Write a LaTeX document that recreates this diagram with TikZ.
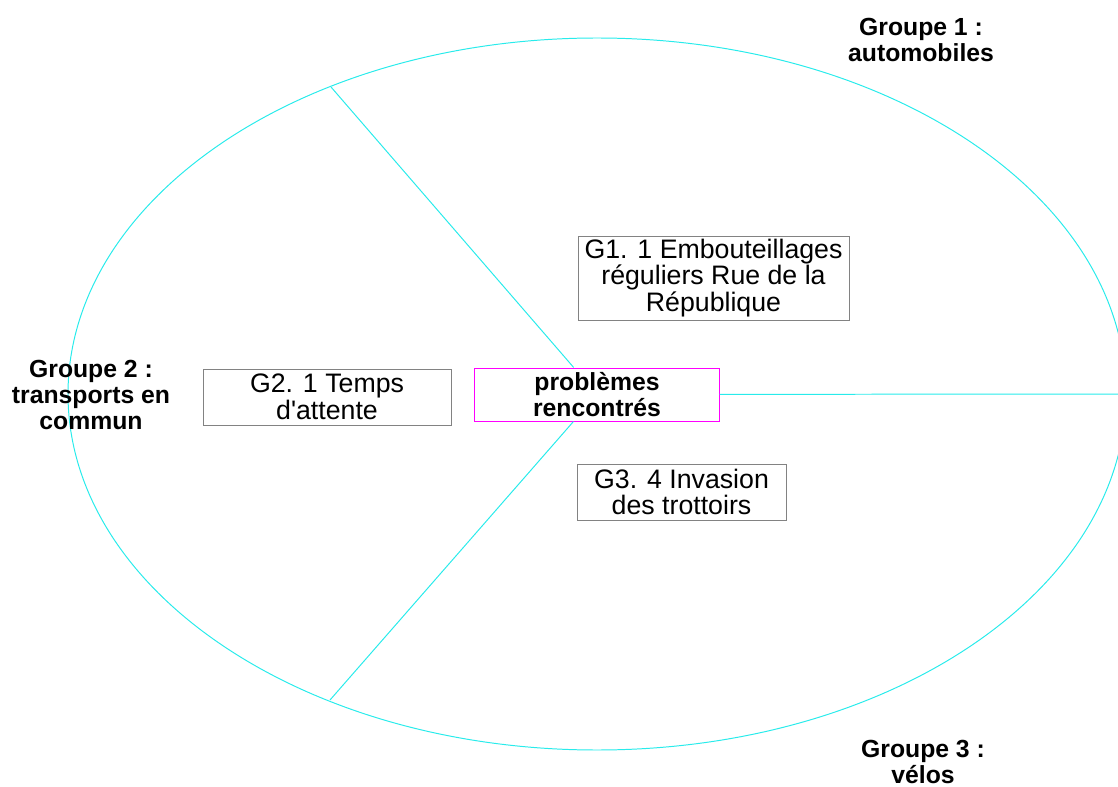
\documentclass[tikz,border=0pt]{standalone}
\usepackage{fontspec}
\setmainfont{Liberation Sans}[Ligatures=TeXOff]
\definecolor{lignecyan}{RGB}{40,235,235}
\definecolor{cadremagenta}{RGB}{255,0,255}
\definecolor{cadregris}{RGB}{130,130,130}
\tikzset{
  branche/.style={draw=lignecyan, line width=0.7pt},
  idee/.style={draw=cadregris, line width=0.5pt, align=center, inner sep=0pt,
    font=\fontsize{19}{19.1}\selectfont},
  titre/.style={draw=cadremagenta, line width=0.7pt, align=center, inner sep=0pt,
    font=\fontsize{17.6}{18.6}\selectfont\bfseries},
  groupe/.style={align=center, inner sep=0pt, font=\fontsize{17.6}{18.6}\selectfont\bfseries}
}
\begin{document}
\begin{tikzpicture}[x=0.025cm, y=-0.025cm]
  \useasboundingbox (0,0) rectangle (1118,787);
  \clip (0,0) rectangle (1118,787);

  % Drawing the ellipse
  \draw [branche] (597,394) ellipse [x radius=529, y radius=356];

  % Points on the ellipse
  \coordinate (haut) at (331,87);
  \coordinate (bas) at (330,700);
  \coordinate (droite) at (1126,394);

  % Central node
  \node [titre, minimum width=6.1cm, minimum height=1.325cm] (centre) at (597,394.5)
    {probl\`emes\\rencontr\'es};

  % Drawing the branches
  \draw [branche] (centre) -- (haut);
  \draw [branche] (centre) -- (bas);
  \draw [branche] (centre) -- (droite);

  % Ideas of each group
  \node [idee, minimum width=6.775cm, minimum height=2.1cm] (g1) at (713.5,278)
    {G1. 1 Embouteillages\\r\'eguliers Rue de la\\R\'epublique};
  \node [idee, minimum width=6.2cm, minimum height=1.4cm] (g2) at (327,397)
    {G2. 1 Temps\\d'attente};
  \node [idee, minimum width=5.225cm, minimum height=1.4cm] (g3) at (681.5,492)
    {G3. 4 Invasion\\des trottoirs};

  % Group labels
  \node [groupe] (groupe1) at (921,40) {Groupe 1 :\\automobiles};
  \node [groupe] (groupe2) at (91,395) {Groupe 2 :\\transports en\\commun};
  \node [groupe] (groupe3) at (923,762) {Groupe 3 :\\v\'elos};
\end{tikzpicture}
\end{document}
